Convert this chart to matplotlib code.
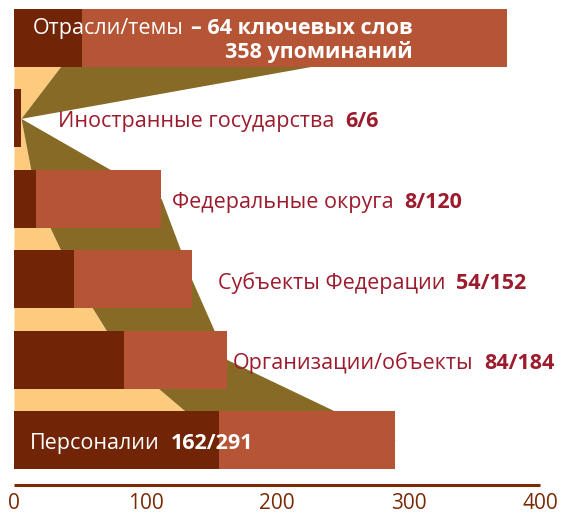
import matplotlib
matplotlib.use("Agg")
import matplotlib.pyplot as plt
import numpy as np

plt.rcParams['font.family'] = ['Open Sans', 'DejaVu Sans']

# data (top bar first)
categories = ["Отрасли/темы", "Иностранные государства", "Федеральные округа",
              "Субъекты Федерации", "Организации/объекты", "Персоналии"]
counts = ["– 64 ключевых слов", "6/6", "8/120", "54/152", "84/184", "162/291"]
dark_vals = [52, 5.3, 17, 46, 84, 156]
total_vals = [375, 5.3, 112, 135, 162, 290]
band_outer = [347, 5.3, 112, 135, 162, 290]
second_line = "358 упоминаний"
ticks = [0, 100, 200, 300, 400]

DARK = "#722406"
LIGHT = "#B55535"
OLIVE = "#876A25"
SAND = "#FDCB7E"
RED = "#9C1C2E"
AXIS = "#7A2A04"
FS = 15.5

# label start (left aligned) in data units; first one is right aligned
label_x = [303, 33.5, 120, 155, 166, 12]
inside = [True, False, False, False, False, True]

fig = plt.figure(figsize=(5.61, 5.13), dpi=100)
ax = fig.add_axes([14 / 561, 28 / 513, 526 / 561, 476 / 513])

y = np.arange(len(categories))[::-1].astype(float)

# funnel behind the bars
ax.fill_betweenx(y, 0, dark_vals, color=SAND, lw=0, zorder=0)
ax.fill_betweenx(y, dark_vals, band_outer, color=OLIVE, lw=0, zorder=0)

ax.barh(y, total_vals, height=0.72, color=LIGHT, zorder=2)
ax.barh(y, dark_vals, height=0.72, color=DARK, zorder=3)

for i, (cat, cnt) in enumerate(zip(categories, counts)):
    col = "white" if inside[i] else RED
    if i == 0:
        b = ax.annotate(cnt, xy=(label_x[i], y[i]), xytext=(0, 7), textcoords="offset points",
                        ha="right", va="center", fontsize=FS, fontweight="bold", color=col, zorder=5)
        ax.annotate(cat, xy=(0, 0), xycoords=b, xytext=(-5, 0), textcoords="offset points",
                    ha="right", va="bottom", fontsize=FS, color=col, zorder=5)
        ax.annotate(second_line, xy=(label_x[i], y[i]), xytext=(0, -10), textcoords="offset points",
                    ha="right", va="center", fontsize=FS, fontweight="bold", color=col, zorder=5)
        continue
    t = ax.annotate(cat, xy=(label_x[i], y[i]), xytext=(0, -2.5), textcoords="offset points",
                    ha="left", va="center", fontsize=FS, color=col, zorder=5)
    ax.annotate(cnt, xy=(1, 0), xycoords=t, xytext=(8, 0), textcoords="offset points",
                ha="left", va="bottom", fontsize=FS, fontweight="bold", color=col, zorder=5)

ax.set_xlim(0, 400)
ax.set_ylim(-0.56, 5.36)
ax.set_xticks(ticks)
ax.set_yticks([])
for s in ["top", "right", "left"]:
    ax.spines[s].set_visible(False)
ax.spines["bottom"].set_color(AXIS)
ax.spines["bottom"].set_linewidth(2.2)
ax.spines["bottom"].set_capstyle("butt")
ax.tick_params(axis="x", length=0, pad=6, labelsize=15, labelcolor=AXIS)
ax.patch.set_alpha(0)

fig.savefig("out.png", dpi=100)
